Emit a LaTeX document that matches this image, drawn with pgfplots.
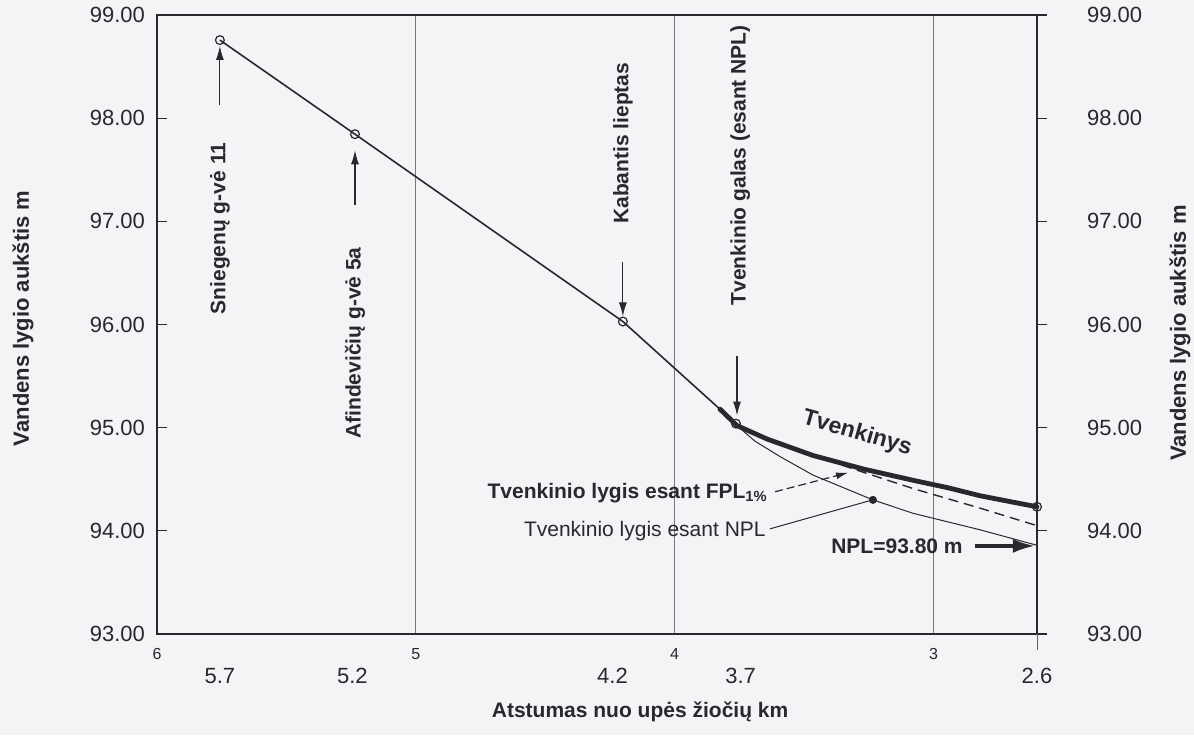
\documentclass[border=0pt]{standalone}
\usepackage{fontspec}
\setmainfont{Liberation Sans}
\usepackage{pgfplots}
\pgfplotsset{compat=1.18}
\usetikzlibrary{arrows.meta}
\definecolor{paper}{RGB}{244,244,247}
\definecolor{ink}{RGB}{40,40,45}
\definecolor{gridc}{RGB}{120,120,125}

\begin{document}
\begin{tikzpicture}[font=\fontsize{10.5}{12}\selectfont, color=ink]
\fill[paper] (-78.5pt,-50.5pt) rectangle (518.5pt,317pt);

\begin{axis}[
  at={(0,0)}, anchor=south west,
  scale only axis, width=440pt, height=309.5pt,
  x dir=reverse, xmin=2.6, xmax=6, ymin=93, ymax=99,
  axis line style={ink, line width=0.7pt},
  xtick={6,5,4,3}, xticklabels={6,5,4,3},
  xmajorgrids, grid style={gridc, line width=0.5pt},
  xtick style={draw=none},
  xticklabel style={font=\fontsize{8}{9}\selectfont, yshift=-3.5pt},
  extra x ticks={5.757,5.245,4.24,3.745,2.6},
  extra x tick labels={5.7,5.2,4.2,3.7,2.6},
  extra x tick style={grid=none, tick align=inside, major tick length=5pt,
    tick style={ink, line width=0.6pt, draw=ink},
    xticklabel style={font=\fontsize{11}{12}\selectfont, yshift=-10pt}},
  ytick={93,94,...,99}, ytick pos=left, tick align=inside, major tick length=5pt,
  ytick style={ink, line width=0.6pt},
  yticklabel style={font=\fontsize{11}{12}\selectfont, xshift=-2.5pt, /pgf/number format/fixed,
    /pgf/number format/fixed zerofill, /pgf/number format/precision=2},
  /pgf/number format/assume math mode=true,
  xlabel={\bfseries Atstumas nuo upės žiočių km},
  xlabel style={at={(rel axis cs:0.549,0)}, anchor=center, yshift=-39pt},
  ylabel={\bfseries Vandens lygio aukštis m},
  ylabel style={at={(rel axis cs:0,0.51)}, anchor=center, yshift=67pt,
    font=\fontsize{11}{12}\selectfont},
  clip=false,
]
% pagrindine linija su matavimo taskais
\addplot[ink, line width=0.8pt, mark=o, mark size=2.2pt,
  mark options={fill=white, line width=0.6pt}] coordinates {
  (5.757,98.757) (5.235,97.845) (4.200,96.029) (3.763,95.039)
};
% tvenkinys (stora linija)
\addplot[ink, line width=2.4pt, line cap=round] coordinates {
  (3.825,95.18) (3.759,95.02) (3.643,94.89) (3.465,94.73) (3.272,94.60)
  (3.079,94.49) (2.948,94.42) (2.820,94.34) (2.600,94.233)
};
% FPL 1%
\addplot[ink, line width=0.7pt, dash pattern=on 5pt off 3pt] coordinates {
  (3.759,95.02) (3.554,94.81) (3.322,94.61) (3.079,94.41) (2.820,94.22) (2.600,94.05)
};
% NPL
\addplot[ink, line width=0.5pt] coordinates {
  (3.759,95.02) (3.690,94.87) (3.593,94.72) (3.465,94.54) (3.234,94.30)
  (3.079,94.17) (2.820,94.01) (2.600,93.86)
};
\addplot[only marks, mark=*, mark size=1.8pt, ink] coordinates {(3.234,94.30)};
\addplot[only marks, mark=o, mark size=2.2pt, mark options={fill=white, line width=0.6pt}, ink]
  coordinates {(2.600,94.233)};

% uzrasai
\node[rotate=90, font=\fontsize{10.5}{12}\selectfont\bfseries] at (axis cs:5.757,96.93) {Sniegenų g-vė 11};
\draw[line width=0.6pt, -{Latex[length=7pt,width=4pt]}] (axis cs:5.757,98.13) -- (axis cs:5.757,98.70);
\node[rotate=90, font=\fontsize{10.5}{12}\selectfont\bfseries] at (axis cs:5.235,95.82) {Afindevičių g-vė 5a};
\draw[line width=0.6pt, -{Latex[length=7pt,width=4pt]}] (axis cs:5.235,97.155) -- (axis cs:5.235,97.689);
\node[rotate=90, font=\fontsize{10.5}{12}\selectfont\bfseries] at (axis cs:4.200,97.757) {Kabantis lieptas};
\draw[line width=0.6pt, -{Latex[length=7pt,width=4pt]}] (axis cs:4.200,96.602) -- (axis cs:4.200,96.078);
\node[rotate=90, font=\fontsize{10.5}{12}\selectfont\bfseries] at (axis cs:3.747,97.544) {Tvenkinio galas (esant NPL)};
\draw[line width=0.6pt, -{Latex[length=7pt,width=4pt]}] (axis cs:3.759,95.699) -- (axis cs:3.759,95.117);

\node[rotate=-16, font=\fontsize{11.5}{13}\selectfont\bfseries] at (axis cs:3.295,94.942) {Tvenkinys};

\node[anchor=east, inner sep=1pt, font=\fontsize{10.5}{12}\selectfont\bfseries] at (axis cs:3.631,94.369) {Tvenkinio lygis esant FPL\textsubscript{1\%}};
\draw[line width=0.6pt, dash pattern=on 4pt off 2pt, -{Latex[length=6pt,width=3.5pt]}] (axis cs:3.612,94.379) -- (axis cs:3.330,94.563);
\node[anchor=east, inner sep=1pt] at (axis cs:3.639,94.0) {Tvenkinio lygis esant NPL};
\draw[line width=0.5pt] (axis cs:3.632,94.019) -- (axis cs:3.234,94.301);

\node[anchor=east, inner sep=1pt, font=\fontsize{10.5}{12}\selectfont\bfseries] at (axis cs:2.878,93.854) {NPL=93.80 m};
\draw[line width=1.6pt, -{Latex[length=11pt,width=7pt]}] (axis cs:2.840,93.854) -- (axis cs:2.608,93.854);
\end{axis}

\begin{axis}[
  at={(0,0)}, anchor=south west,
  scale only axis, width=440pt, height=309.5pt,
  x dir=reverse, xmin=2.6, xmax=6, ymin=93, ymax=99,
  axis x line=none, axis y line*=right,
  axis line style={ink, line width=0.7pt, -},
  ytick={93,94,...,99}, tick align=outside, major tick length=5pt,
  ytick style={ink, line width=0.6pt},
  yticklabel style={font=\fontsize{11}{12}\selectfont, xshift=16.5pt, /pgf/number format/fixed,
    /pgf/number format/fixed zerofill, /pgf/number format/precision=2},
  /pgf/number format/assume math mode=true,
  ylabel={\bfseries Vandens lygio aukštis m},
  ylabel style={at={(rel axis cs:1,0.486)}, anchor=center, yshift=-71.5pt,
    font=\fontsize{11}{12}\selectfont},
]
\addplot[draw=none] coordinates {(3,95)};
\end{axis}
\draw[red!60!gray, line width=0.5pt] (440pt,0) -- (440pt,-8pt);
\pgfresetboundingbox
\path (-78.5pt,-50.5pt) rectangle (518.5pt,317pt);
\end{tikzpicture}
\end{document}
